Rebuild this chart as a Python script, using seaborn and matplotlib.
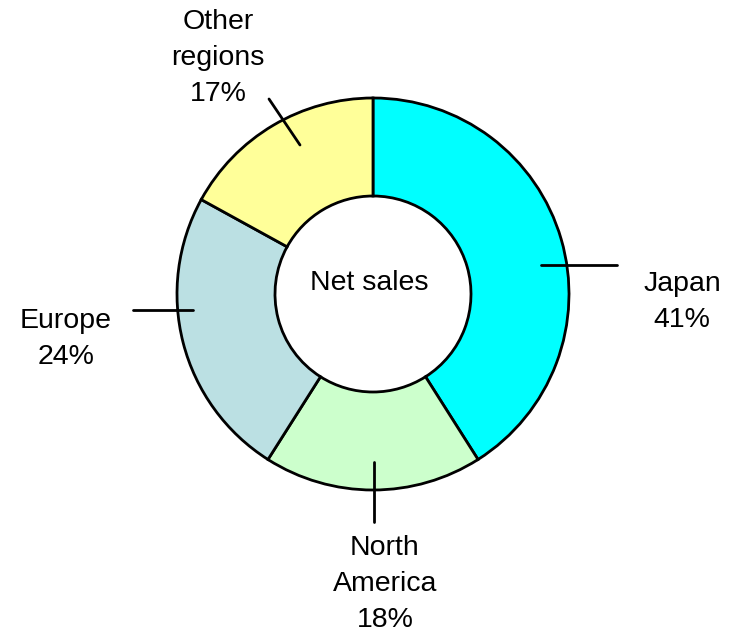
import matplotlib
matplotlib.use("Agg")
import matplotlib.pyplot as plt
import seaborn as sns

# data
regions = ["Japan", "North\nAmerica", "Europe", "Other\nregions"]
shares = [41, 18, 24, 17]
colors = ["#00FFFF", "#CCFFCC", "#BBE0E3", "#FFFF99"]

sns.set_style("white")
plt.rcParams['font.family'] = ['Liberation Sans', 'DejaVu Sans']
plt.rcParams['text.color'] = 'black'

W, H = 729, 636
fig = plt.figure(figsize=(W / 100, H / 100), dpi=100)
ax = fig.add_axes([0, 0, 1, 1])

cx, cy = 373, H - 294
R = 196

wedges, _ = ax.pie(shares, colors=colors, startangle=90, counterclock=False,
                   center=(cx, cy), radius=R, frame=True,
                   wedgeprops=dict(width=R / 2, edgecolor="black", linewidth=2))
ax.set_xlim(0, W)
ax.set_ylim(0, H)
ax.set_aspect("equal")
ax.axis("off")

ax.text(cx - 4, cy + 11, "Net sales", ha="center", va="center",
        fontsize=20.5, color="black")

# label positions / leader lines (pixel layout, image y down)
label_pos = [(682, 302), (385, 584), (66, 339), (218, 58)]
leaders = [((541, 265), (617, 265)), ((374, 462), (374, 522)),
           ((193, 310), (133, 310)), ((300, 145), (269, 99))]

for name, pct, (lx, ly), ((x0, y0), (x1, y1)) in zip(regions, shares, label_pos, leaders):
    ax.plot([x0, x1], [H - y0, H - y1], color="black", lw=2)
    ax.text(lx, H - ly, f"{name}\n{pct}%", ha="center", va="center",
            fontsize=20.5, linespacing=1.5, color="black")

fig.savefig("out.png", dpi=100)
